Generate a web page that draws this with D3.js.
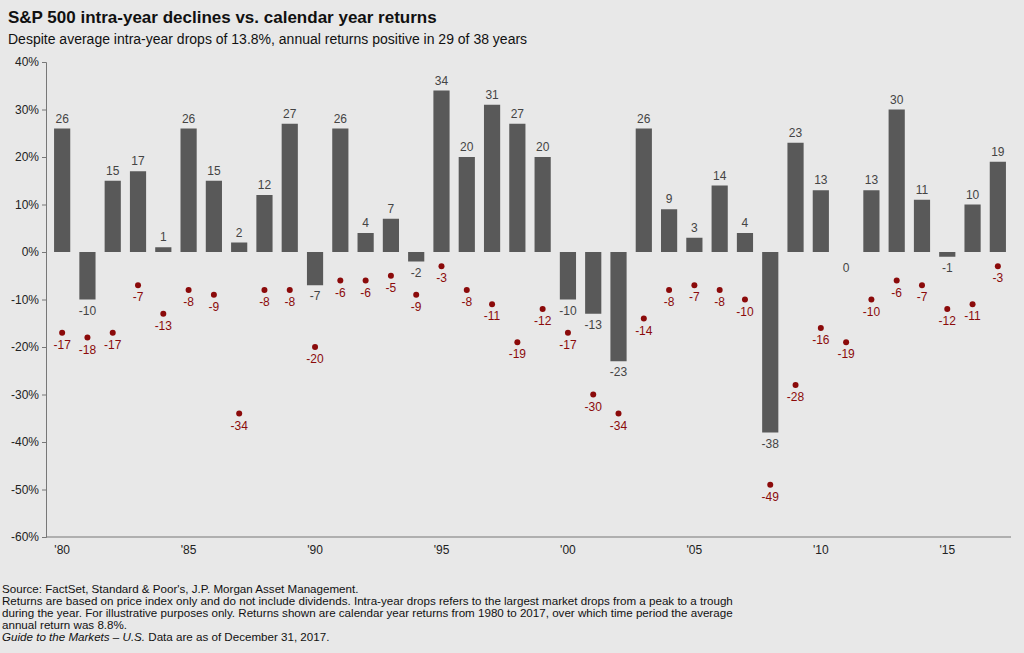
<!DOCTYPE html>
<html><head><meta charset="utf-8">
<script src="https://cdn.jsdelivr.net/npm/d3@7"></script>
<style>body{margin:0;background:#e8e8e8;font-family:Arial,"Liberation Sans",sans-serif}</style>
</head><body><svg id="c" width="1024" height="653"></svg>
<script>
var years = d3.range(1980, 2018);
var returns = [26,-10,15,17,1,26,15,2,12,27,-7,26,4,7,-2,34,20,31,27,20,-10,-13,-23,26,9,3,14,4,-38,23,13,0,13,30,11,-1,10,19];
var drops = [-17,-18,-17,-7,-13,-8,-9,-34,-8,-8,-20,-6,-6,-5,-9,-3,-8,-11,-19,-12,-17,-30,-34,-14,-8,-7,-8,-10,-49,-28,-16,-19,-10,-6,-7,-12,-11,-3];
var yTicks = [40,30,20,10,0,-10,-20,-30,-40,-50,-60];
var xTickYears = [1980,1985,1990,1995,2000,2005,2010,2015];

var svg = d3.select("#c");
svg.append("rect").attr("width",1024).attr("height",653).attr("fill","#e8e8e8");

var x = d3.scaleBand().domain(years).range([49, 1011]).paddingInner(0.36).paddingOuter(0.2);
var y = d3.scaleLinear().domain([-60, 40]).range([537, 62]);

svg.append("text").attr("x",8).attr("y",23).attr("font-size",17).attr("font-weight","bold").attr("fill","#111")
  .text("S&P 500 intra-year declines vs. calendar year returns");
svg.append("text").attr("x",8).attr("y",44).attr("font-size",14).attr("fill","#111")
  .text("Despite average intra-year drops of 13.8%, annual returns positive in 29 of 38 years");

var yAxis = svg.append("g").attr("transform","translate(46,0)")
  .call(d3.axisLeft(y).tickValues(yTicks).tickSize(4).tickFormat(function(d){ return d + "%"; }));
yAxis.selectAll("text").attr("font-size",12).attr("fill","#222");
yAxis.selectAll("line,path").attr("stroke","#777");

var xAxis = svg.append("g").attr("transform","translate(0,537)")
  .call(d3.axisBottom(x).tickValues(xTickYears).tickSize(0).tickPadding(8)
    .tickFormat(function(d){ return "'" + String(d).slice(2); }));
xAxis.select("path").attr("stroke","#777").attr("d","M46,0H1011");
xAxis.selectAll("text").attr("font-size",12).attr("fill","#222");

svg.selectAll(".bar").data(returns).enter().append("rect")
  .attr("x", function(d,i){ return x(years[i]); })
  .attr("width", x.bandwidth())
  .attr("y", function(d){ return y(Math.max(0,d)); })
  .attr("height", function(d){ return Math.abs(y(d) - y(0)); })
  .attr("fill","#595959");

svg.selectAll(".rl").data(returns).enter().append("text")
  .attr("x", function(d,i){ return x(years[i]) + x.bandwidth()/2; })
  .attr("y", function(d){ return d > 0 ? y(d) - 6 : (d === 0 ? y(0) + 20 : y(d) + 15); })
  .attr("text-anchor","middle").attr("font-size",12).attr("fill","#444")
  .text(function(d){ return d; });

svg.selectAll(".dot").data(drops).enter().append("circle")
  .attr("cx", function(d,i){ return x(years[i]) + x.bandwidth()/2; })
  .attr("cy", function(d){ return y(d); })
  .attr("r",3).attr("fill","#8b0a0a");

svg.selectAll(".dl").data(drops).enter().append("text")
  .attr("x", function(d,i){ return x(years[i]) + x.bandwidth()/2; })
  .attr("y", function(d){ return y(d) + 16; })
  .attr("text-anchor","middle").attr("font-size",12).attr("fill","#8b0a0a")
  .text(function(d){ return d; });

var notes = ["Source: FactSet, Standard & Poor's, J.P. Morgan Asset Management.",
  "Returns are based on price index only and do not include dividends. Intra-year drops refers to the largest market drops from a peak to a trough",
  "during the year. For illustrative purposes only. Returns shown are calendar year returns from 1980 to 2017, over which time period the average",
  "annual return was 8.8%."];
svg.selectAll(".note").data(notes).enter().append("text")
  .attr("x",2).attr("y", function(d,i){ return 593 + i*12; })
  .attr("font-size",11.6).attr("fill","#111").text(function(d){ return d; });
var last = svg.append("text").attr("x",2).attr("y",641).attr("font-size",11.6).attr("fill","#111");
last.append("tspan").attr("font-style","italic").text("Guide to the Markets – U.S.");
last.append("tspan").text(" Data are as of December 31, 2017.");
</script></body></html>
